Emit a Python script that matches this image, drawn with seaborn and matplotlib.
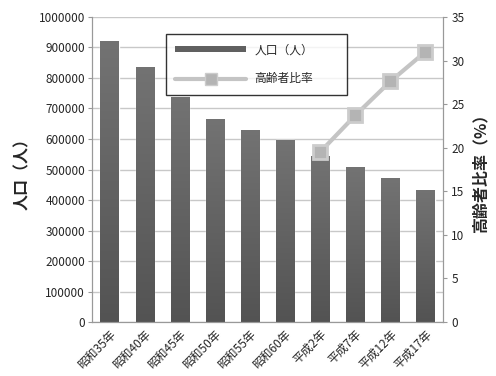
import numpy as np
import pandas as pd
import matplotlib
matplotlib.use("Agg")
import matplotlib.pyplot as plt
import seaborn as sns
from matplotlib.lines import Line2D
from matplotlib.patches import Patch
from matplotlib.ticker import FuncFormatter
from matplotlib.colors import LinearSegmentedColormap

categories = ["昭和35年", "昭和40年", "昭和45年", "昭和50年", "昭和55年", "昭和60年",
              "平成2年", "平成7年", "平成12年", "平成17年"]
population = [922000, 837000, 738000, 666000, 630000, 597000, 545000, 508000, 472000, 433000]
ratio_cats = ["平成2年", "平成7年", "平成12年", "平成17年"]
ratio_vals = [19.5, 23.7, 27.6, 31.0]

sns.set_style("white")
plt.rcParams['font.family'] = ['Noto Sans CJK JP', 'DejaVu Sans']

fig = plt.figure(figsize=(4.96, 3.76), dpi=100)
ax = fig.add_axes([0.1855, 0.1436, 0.7075, 0.8112])

df = pd.DataFrame({"cat": categories, "pop": population})
sns.barplot(data=df, x="cat", y="pop", color="#5e5e5e", saturation=1, width=0.52, ax=ax, zorder=2)

grad = np.linspace(0, 1, 256).reshape(-1, 1)
cmap = LinearSegmentedColormap.from_list("g", ["#535353", "#737373"])
for p in ax.patches:
    x0, y0 = p.get_x(), p.get_y()
    w, h = p.get_width(), p.get_height()
    im = ax.imshow(grad, extent=[x0, x0 + w, y0, y0 + h], origin="lower", cmap=cmap,
                   aspect="auto", zorder=2.5)
    im.set_clip_path(p)

ax.set_xlim(-0.5, len(categories) - 0.5)
ax.set_ylim(0, 1000000)
ax.set_yticks(np.arange(0, 1000001, 100000))
ax.yaxis.set_major_formatter(FuncFormatter(lambda v, p: f"{int(round(v))}"))
ax.yaxis.grid(True, color="#c8c8c8", linewidth=1)
ax.set_axisbelow(True)
ax.set_xlabel("")
ax.set_ylabel("人口（人）", fontsize=11.5, fontweight="bold", labelpad=6)
ax.tick_params(axis="y", labelsize=8.5, length=3, color="#999999", pad=2)
ax.tick_params(axis="x", labelsize=8.5, length=0, pad=4)
for lab in ax.get_xticklabels():
    lab.set_rotation(45)
    lab.set_ha("right")
    lab.set_rotation_mode("anchor")
ax.spines["top"].set_visible(False)
for s in ["left", "bottom", "right"]:
    ax.spines[s].set_color("#999999")

ax2 = ax.twinx()
idx = [categories.index(c) for c in ratio_cats]
rdf = pd.DataFrame({"x": idx, "y": ratio_vals})
sns.lineplot(data=rdf, x="x", y="y", ax=ax2, color="#c4c4c4", linewidth=3,
             marker="s", markersize=10, markerfacecolor="#b4b4b4",
             markeredgecolor="#cccccc", markeredgewidth=2, zorder=5)
ax2.set_ylim(0, 35)
ax2.set_yticks(np.arange(0, 36, 5))
ax2.set_xlim(-0.5, len(categories) - 0.5)
ax2.set_xlabel("")
ax2.set_ylabel("高齢者比率（%）", fontsize=11.5, fontweight="bold", rotation=90, labelpad=6)
ax2.tick_params(axis="y", labelsize=8.5, length=3, color="#999999", pad=3)
ax2.spines["top"].set_visible(False)
for s in ["left", "bottom", "right"]:
    ax2.spines[s].set_color("#999999")

handles = [Patch(facecolor="#606060", edgecolor="none"),
           Line2D([0], [0], color="#c4c4c4", linewidth=3, marker="s", markersize=8,
                  markerfacecolor="#b4b4b4", markeredgecolor="#cccccc")]
leg = ax2.legend(handles, ["人口（人）", "高齢者比率"], loc="upper left",
                 bbox_to_anchor=(0.211, 0.944, 0.516, 0.0), mode="expand",
                 fontsize=8.5, frameon=True, fancybox=False,
                 edgecolor="black", handlelength=6.0, handleheight=0.45, labelspacing=1.35,
                 borderpad=0.8, handletextpad=0.7, borderaxespad=0)
leg.get_frame().set_linewidth(1)

fig.savefig("out.png", dpi=100)
